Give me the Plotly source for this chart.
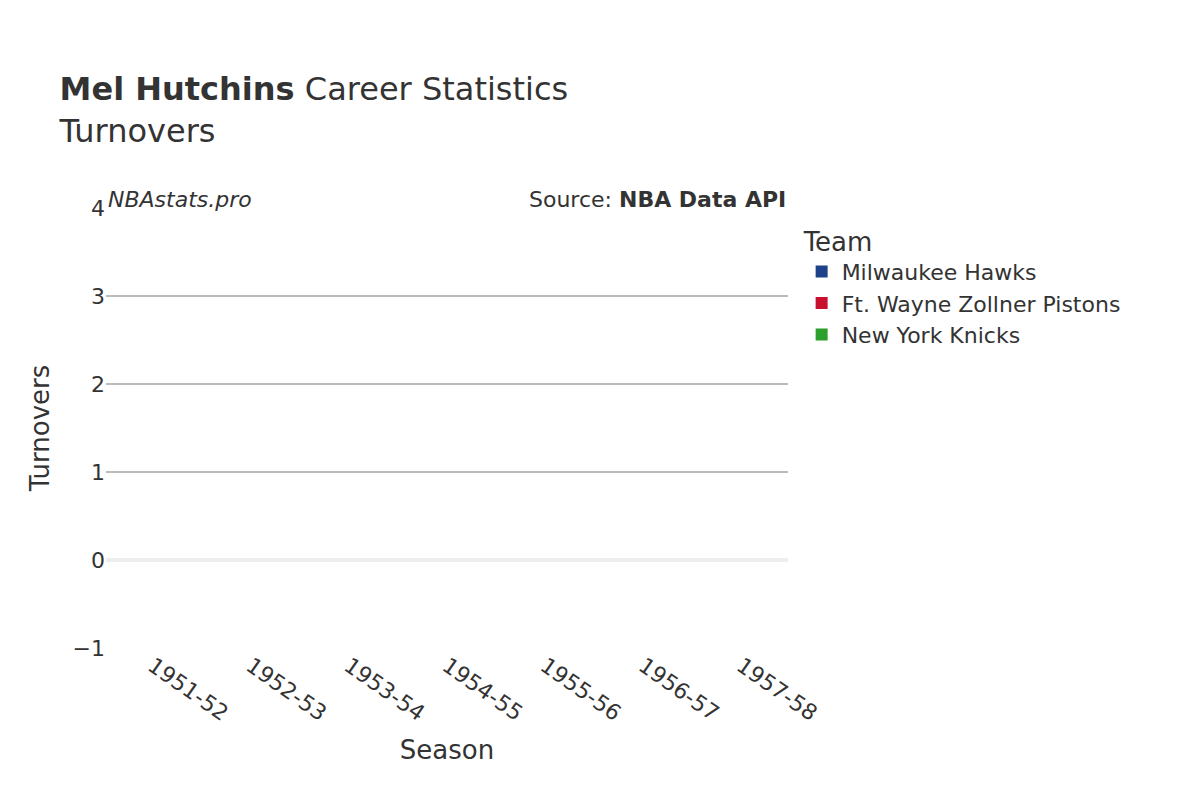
import plotly.graph_objects as go

seasons = ["1951-52", "1952-53", "1953-54", "1954-55", "1955-56", "1956-57", "1957-58"]
teams = ["Milwaukee Hawks", "Ft. Wayne Zollner Pistons", "New York Knicks"]
colors = ["#1d428a", "#c8102e", "#2ca02c"]
turnovers = {
    "Milwaukee Hawks": [None] * 7,
    "Ft. Wayne Zollner Pistons": [None] * 7,
    "New York Knicks": [None] * 7,
}

fig = go.Figure()
for t, c in zip(teams, colors):
    fig.add_trace(go.Scatter(x=seasons, y=turnovers[t], name=t, mode="markers",
                             marker=dict(color=c, symbol="square", size=20)))

fig.update_layout(
    width=1200, height=800,
    font=dict(family="DejaVu Sans", size=22, color="#333"),
    paper_bgcolor="white", plot_bgcolor="white",
    margin=dict(l=98, r=420, t=200, b=160),
    title=dict(text="<b>Mel Hutchins</b> Career Statistics<br>Turnovers", x=0.043, xanchor="left",
               y=0.885, yanchor="top", font=dict(size=32, color="#333")),
    legend=dict(title=dict(text="Team", font=dict(size=26)), x=1.02, y=0.98, yanchor="top",
                font=dict(size=22), itemsizing="constant", tracegroupgap=0),
    xaxis=dict(title=dict(text="Season", font=dict(size=26)), categoryorder="array",
               categoryarray=seasons, tickangle=35, showgrid=False, automargin=False,
               tickfont=dict(size=22)),
    yaxis=dict(title=dict(text="Turnovers", font=dict(size=26)), range=[-1, 4], dtick=1,
               gridcolor="#bbb", gridwidth=1.5, zeroline=True, zerolinecolor="#eee", zerolinewidth=4,
               automargin=False, tickfont=dict(size=22)),
    annotations=[
        dict(text="<i>NBAstats.pro</i>", xref="paper", yref="paper", x=0.0, y=1.02,
             xanchor="left", yanchor="middle", showarrow=False, font=dict(size=22)),
        dict(text="Source: <b>NBA Data API</b>", xref="paper", yref="paper", x=1.0, y=1.02,
             xanchor="right", yanchor="middle", showarrow=False, font=dict(size=22)),
    ],
)
fig.write_html("out.html")
